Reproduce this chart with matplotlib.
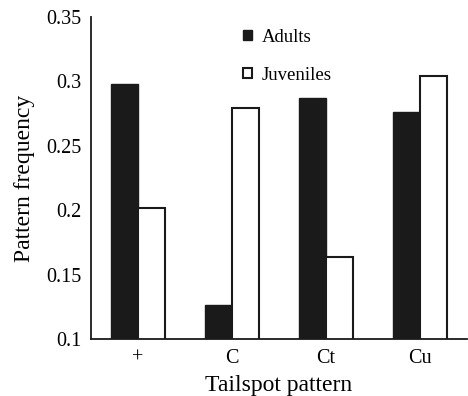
import matplotlib

matplotlib.use("Agg")

import matplotlib.pyplot as plt
import numpy as np


categories = ["+", "C", "Ct", "Cu"]
adults = [0.298, 0.126, 0.287, 0.276]
juveniles = [0.202, 0.279, 0.164, 0.304]
y_ticks = [0.1, 0.15, 0.2, 0.25, 0.3, 0.35]
y_tick_labels = ["0.1", "0.15", "0.2", "0.25", "0.3", "0.35"]

plt.rcParams["font.family"] = ["Liberation Serif", "DejaVu Serif"]

fig = plt.figure(figsize=(4.68, 3.96), dpi=100)
ax = fig.add_axes([0.194, 0.144, 0.804, 0.813])

x = np.arange(len(categories))
width = 0.287
ax.bar(x - width / 2, adults, width, color="#1a1a1a", edgecolor="#1a1a1a",
       linewidth=1.0, label="Adults")
ax.bar(x + width / 2, juveniles, width, color="white", edgecolor="#1a1a1a",
       linewidth=1.5, label="Juveniles")

ax.set_xlim(-0.5, 3.5)
ax.set_ylim(0.1, 0.35)
ax.set_xticks(x)
ax.set_xticklabels(categories, fontsize=14.5)
ax.set_yticks(y_ticks)
ax.set_yticklabels(y_tick_labels, fontsize=14.5)
ax.tick_params(axis="x", length=0, pad=7)
ax.tick_params(axis="y", length=0, pad=7)

for side in ["top", "right"]:
    ax.spines[side].set_visible(False)
for side in ["left", "bottom"]:
    ax.spines[side].set_linewidth(1.3)
    ax.spines[side].set_color("#1a1a1a")

ax.set_xlabel("Tailspot pattern", fontsize=17, labelpad=5)
ax.set_ylabel("Pattern frequency", fontsize=17, labelpad=7.5)

ax.legend(loc="upper left", bbox_to_anchor=(0.36, 1.015), frameon=False,
          fontsize=13.5, handlelength=0.45, handleheight=0.45, labelspacing=1.1,
          handletextpad=0.55)

fig.savefig("out.png", dpi=100)
